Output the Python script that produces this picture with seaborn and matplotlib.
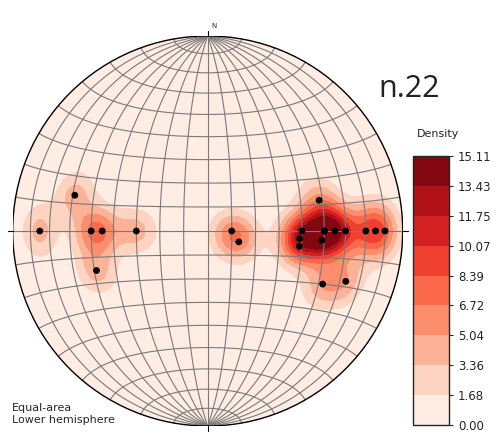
import numpy as np
import matplotlib
matplotlib.use("Agg")
import matplotlib.pyplot as plt
import seaborn as sns
from matplotlib.patches import Circle

# Poles (longitude / latitude in net coordinates, degrees)
pole_lon = [-75, -59, -50, -45, -49, -30, 10, 13,
            40, 39, 39, 48.5, 50, 50, 49, 55, 60, 70, 75, 80,
            52, 63]
pole_lat = [0, 13, 0, 0, -15, 0, 0, -4.5,
            0, -3, -6, 11.7, 0, 0, -3.5, 0, 0, 0, 0, 0,
            -20, -18]
n_label = "n.22"
density_max = 15.11
n_levels = 10
grid_step = 10

# smoothing kernel for the density (exponential, on the sphere)
kernel_f = 80.0
kernel_amp = 3.9


def project(lon, lat):
    # equal-area (Lambert azimuthal, equatorial aspect), unit primitive circle
    lon = np.radians(lon)
    lat = np.radians(lat)
    k = np.sqrt(2.0 / (1.0 + np.cos(lat) * np.cos(lon)))
    return k * np.cos(lat) * np.sin(lon) / np.sqrt(2), k * np.sin(lat) / np.sqrt(2)


def unproject(x, y):
    x = x * np.sqrt(2)
    y = y * np.sqrt(2)
    rho = np.hypot(x, y)
    rho = np.where(rho == 0, 1e-12, rho)
    c = 2 * np.arcsin(np.clip(rho / 2, -1, 1))
    lat = np.arcsin(np.clip(y * np.sin(c) / rho, -1, 1))
    lon = np.arctan2(x * np.sin(c), rho * np.cos(c))
    return lon, lat


def to_xyz(lon, lat):
    return np.stack([np.cos(lat) * np.cos(lon), np.cos(lat) * np.sin(lon), np.sin(lat)], axis=-1)


# density on a grid covering the net
pts = to_xyz(np.radians(pole_lon), np.radians(pole_lat))
gx, gy = np.meshgrid(np.linspace(-1.02, 1.02, 241), np.linspace(-1.02, 1.02, 241))
r = np.hypot(gx, gy)
scale = np.where(r > 0.9999, 0.9999 / np.maximum(r, 1e-12), 1.0)
glon, glat = unproject(gx * scale, gy * scale)
gxyz = to_xyz(glon, glat)
cos_dist = np.abs(gxyz @ pts.T)
dens = kernel_amp * np.exp(kernel_f * (cos_dist - 1)).sum(axis=-1)
dens = np.clip(dens, 0, density_max)

sns.set_style("white")
fig = plt.figure(figsize=(4.98, 4.34), dpi=100)
ax = fig.add_axes([12.7 / 498, 8 / 434, 390 / 498, 390 / 434])
ax.set_xlim(-1, 1)
ax.set_ylim(-1, 1)
ax.set_aspect("equal")
ax.axis("off")

levels = np.linspace(0, density_max, n_levels)
cmap = sns.color_palette("Reds", as_cmap=True)
cs = ax.contourf(gx, gy, dens, levels=levels, cmap=cmap)
clip = Circle((0, 0), 1, transform=ax.transData)
cs.set_clip_path(clip)

# grid: meridians and parallels every 10 degrees
t = np.linspace(-90, 90, 361)
for lon in range(-90 + grid_step, 90, grid_step):
    x, y = project(np.full_like(t, lon), t)
    ax.plot(x, y, color="#7a7a7a", lw=0.8, zorder=2)
for lat in range(-90 + grid_step, 90, grid_step):
    x, y = project(t, np.full_like(t, lat))
    ax.plot(x, y, color="#7a7a7a", lw=0.8, zorder=2)

ax.add_patch(Circle((0, 0), 1, fill=False, ec="black", lw=1.0, zorder=3))

# azimuth ticks
tl = 0.025
ax.plot([0, 0], [1, 1 + tl], color="black", lw=0.8, clip_on=False)
ax.plot([0, 0], [-1, -1 - tl], color="black", lw=0.8, clip_on=False)
ax.plot([1, 1 + tl], [0, 0], color="black", lw=0.8, clip_on=False)
ax.plot([-1, -1 - tl], [0, 0], color="black", lw=0.8, clip_on=False)
ax.text(0.02, 1.035, "N", fontsize=5, ha="left", va="bottom")

px, py = project(np.array(pole_lon, float), np.array(pole_lat, float))
sns.scatterplot(x=px, y=py, ax=ax, color="black", s=24, edgecolor="none", zorder=4)

cax = fig.add_axes([413 / 498, 9 / 434, 36 / 498, 269 / 434])
cb = fig.colorbar(cs, cax=cax, ticks=levels)
cb.ax.set_yticklabels([f"{v:.2f}" for v in levels])
cb.ax.tick_params(labelsize=8.5, length=3)
cb.outline.set_linewidth(1.0)
fig.text(438.5 / 498, 1 - 134 / 434, "Density", fontsize=8, ha="center", va="center")

fig.text(378 / 498, 1 - 97 / 434, n_label, fontsize=22, family="Open Sans",
         ha="left", va="baseline", color="#222222")
fig.text(12 / 498, 1 - 414 / 434, "Equal-area\nLower hemisphere", fontsize=8,
         ha="left", va="center", linespacing=1.3)

fig.savefig("out.png", dpi=100)
